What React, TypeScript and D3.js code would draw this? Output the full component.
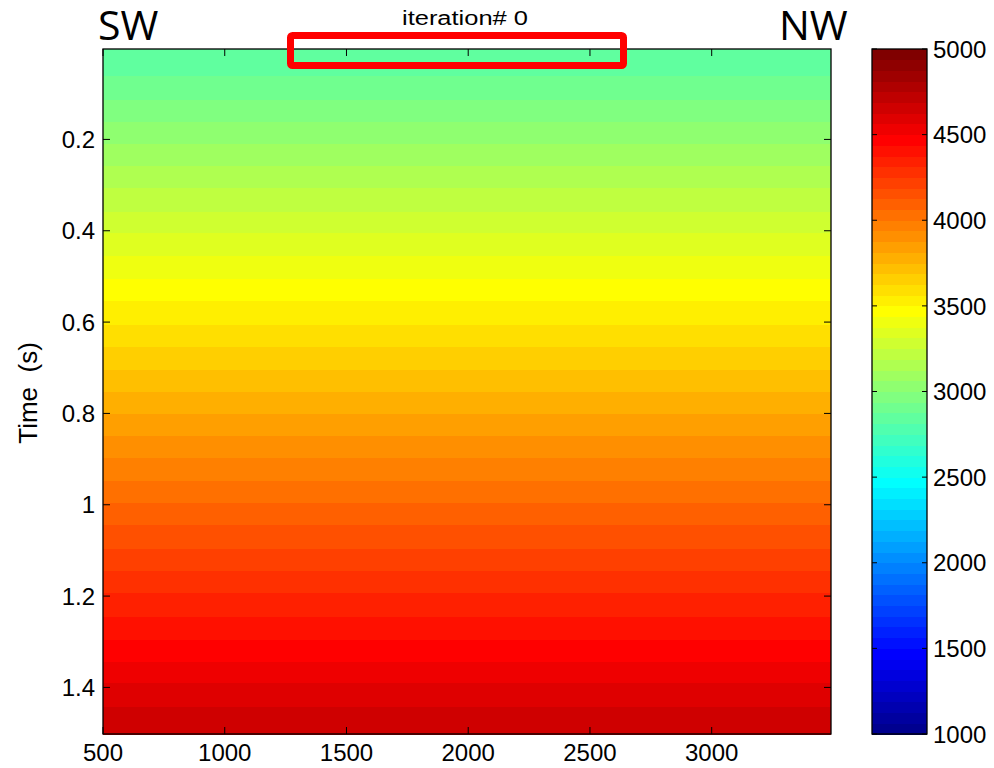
import React from "react";
import * as d3 from "d3";

// Velocity model (iteration 0): each band starts at a given two-way time (s)
const bandStartTimes = [
  0.002, 0.061, 0.114, 0.162, 0.209, 0.258, 0.307, 0.358, 0.406, 0.455,
  0.506, 0.554, 0.606, 0.655, 0.705, 0.752, 0.801, 0.849, 0.897, 0.947,
  0.997, 1.044, 1.097, 1.146, 1.194, 1.245, 1.296, 1.344, 1.391, 1.442,
];
// Interval velocity (m/s) for each band
const bandVelocities = [
  2845, 2905, 2970, 3030, 3095, 3155, 3220, 3280, 3345, 3405,
  3470, 3530, 3595, 3655, 3720, 3780, 3845, 3905, 3970, 4030,
  4095, 4155, 4220, 4280, 4345, 4405, 4470, 4530, 4595, 4655,
];
const timeEnd = 1.502;

const xDomain = [500, 3490];
const xTicks = [500, 1000, 1500, 2000, 2500, 3000];
const yTicks = [0.2, 0.4, 0.6, 0.8, 1, 1.2, 1.4];
const cbarDomain = [1000, 5000];
const cbarTicks = [1000, 1500, 2000, 2500, 3000, 3500, 4000, 4500, 5000];
const nColors = 64;

// MATLAB-style jet colormap with n entries
function jet(n: number): string[] {
  const q = Math.ceil(n / 4);
  const u: number[] = [];
  for (let i = 1; i <= q; i++) u.push(i / q);
  for (let i = 1; i < q; i++) u.push(1);
  for (let i = q; i >= 1; i--) u.push(i / q);
  const g0 = Math.ceil(q / 2) - (n % 4 === 1 ? 1 : 0);
  const cols = Array.from({ length: n }, () => [0, 0, 0]);
  u.forEach((val, k) => {
    const gi = g0 + k + 1;
    const ri = gi + q;
    const bi = gi - q;
    if (ri >= 1 && ri <= n) cols[ri - 1][0] = val;
    if (gi >= 1 && gi <= n) cols[gi - 1][1] = val;
    if (bi >= 1 && bi <= n) cols[bi - 1][2] = val;
  });
  return cols.map(([r, g, b]) =>
    d3.rgb(Math.round(r * 255), Math.round(g * 255), Math.round(b * 255)).formatHex()
  );
}

const palette = jet(nColors);
const colorIndex = d3
  .scaleQuantize<number>()
  .domain(cbarDomain)
  .range(d3.range(nColors));

const plot = { left: 103, right: 831, top: 49, bottom: 734 };
const cbar = { left: 872, right: 927, top: 49, bottom: 734 };

const x = d3.scaleLinear().domain(xDomain).range([plot.left, plot.right]);
const y = d3.scaleLinear().domain([0.002, timeEnd]).range([plot.top, plot.bottom]);
const yc = d3.scaleLinear().domain(cbarDomain).range([cbar.bottom, cbar.top]);

const font = "'Liberation Sans', Arial, Helvetica, sans-serif";

export default function App() {
  const bands = bandStartTimes.map((t0, i) => ({
    t0,
    t1: i + 1 < bandStartTimes.length ? bandStartTimes[i + 1] : timeEnd,
    v: bandVelocities[i],
  }));
  const cbSteps = d3.range(nColors).map((i) => {
    const step = (cbarDomain[1] - cbarDomain[0]) / nColors;
    return { v0: cbarDomain[0] + i * step, v1: cbarDomain[0] + (i + 1) * step, c: palette[i] };
  });
  const tickLen = 7;

  return (
    <svg
      width={994}
      height={768}
      style={{ position: "absolute", left: 0, top: 0, background: "#fff" }}
      fontFamily={font}
    >
      {/* velocity image */}
      <g shapeRendering="crispEdges">
        {bands.map((b, i) => (
          <rect
            key={i}
            x={plot.left}
            y={y(b.t0)}
            width={plot.right - plot.left}
            height={y(b.t1) - y(b.t0) + 0.5}
            fill={palette[colorIndex(b.v)]}
          />
        ))}
      </g>

      {/* axis ticks on all four sides */}
      <g stroke="#000" strokeWidth={1}>
        {xTicks.map((t) => (
          <g key={t}>
            <line x1={x(t)} x2={x(t)} y1={plot.bottom} y2={plot.bottom - tickLen} />
            <line x1={x(t)} x2={x(t)} y1={plot.top} y2={plot.top + tickLen} />
          </g>
        ))}
        {yTicks.map((t) => (
          <g key={t}>
            <line x1={plot.left} x2={plot.left + tickLen} y1={y(t)} y2={y(t)} />
            <line x1={plot.right} x2={plot.right - tickLen} y1={y(t)} y2={y(t)} />
          </g>
        ))}
      </g>
      <rect
        x={plot.left}
        y={plot.top}
        width={plot.right - plot.left}
        height={plot.bottom - plot.top}
        fill="none"
        stroke="#000"
        strokeWidth={1.3}
      />

      {/* tick labels */}
      <g fontSize={24} fill="#000">
        {xTicks.map((t) => (
          <text key={t} x={x(t)} y={761} textAnchor="middle">
            {t}
          </text>
        ))}
        {yTicks.map((t) => (
          <text key={t} x={95} y={y(t)} dy="0.36em" textAnchor="end">
            {t}
          </text>
        ))}
      </g>

      {/* y axis label */}
      <text
        transform="translate(37,393) rotate(-90)"
        textAnchor="middle"
        fontSize={26}
        fill="#000"
        style={{ whiteSpace: "pre" }}
      >
        {"Time  (s)"}
      </text>

      {/* title */}
      <text
        x={465}
        y={25}
        textAnchor="middle"
        fontSize={20}
        textLength={126}
        lengthAdjust="spacingAndGlyphs"
        fill="#000"
      >
        iteration# 0
      </text>

      {/* profile ends */}
      <text x={98} y={40} fontSize={41} fontFamily="'Open Sans', sans-serif" fill="#000">
        SW
      </text>
      <text x={779} y={40} fontSize={41} fontFamily="'Open Sans', sans-serif" fill="#000">
        NW
      </text>

      {/* highlight box */}
      <rect x={290.5} y={35.5} width={333} height={30} rx={2} fill="none" stroke="#ff0000" strokeWidth={7} />

      {/* colorbar */}
      <g shapeRendering="crispEdges">
        {cbSteps.map((s, i) => (
          <rect
            key={i}
            x={cbar.left}
            y={yc(s.v1)}
            width={cbar.right - cbar.left}
            height={yc(s.v0) - yc(s.v1) + 0.5}
            fill={s.c}
          />
        ))}
      </g>
      <g stroke="#000" strokeWidth={1}>
        {cbarTicks.map((t) => (
          <g key={t}>
            <line x1={cbar.left} x2={cbar.left + 5} y1={yc(t)} y2={yc(t)} />
            <line x1={cbar.right} x2={cbar.right - 5} y1={yc(t)} y2={yc(t)} />
          </g>
        ))}
      </g>
      <rect
        x={cbar.left}
        y={cbar.top}
        width={cbar.right - cbar.left}
        height={cbar.bottom - cbar.top}
        fill="none"
        stroke="#000"
        strokeWidth={1.3}
      />
      <g fontSize={24} fill="#000">
        {cbarTicks.map((t) => (
          <text key={t} x={933} y={yc(t)} dy="0.36em">
            {t}
          </text>
        ))}
      </g>
    </svg>
  );
}
